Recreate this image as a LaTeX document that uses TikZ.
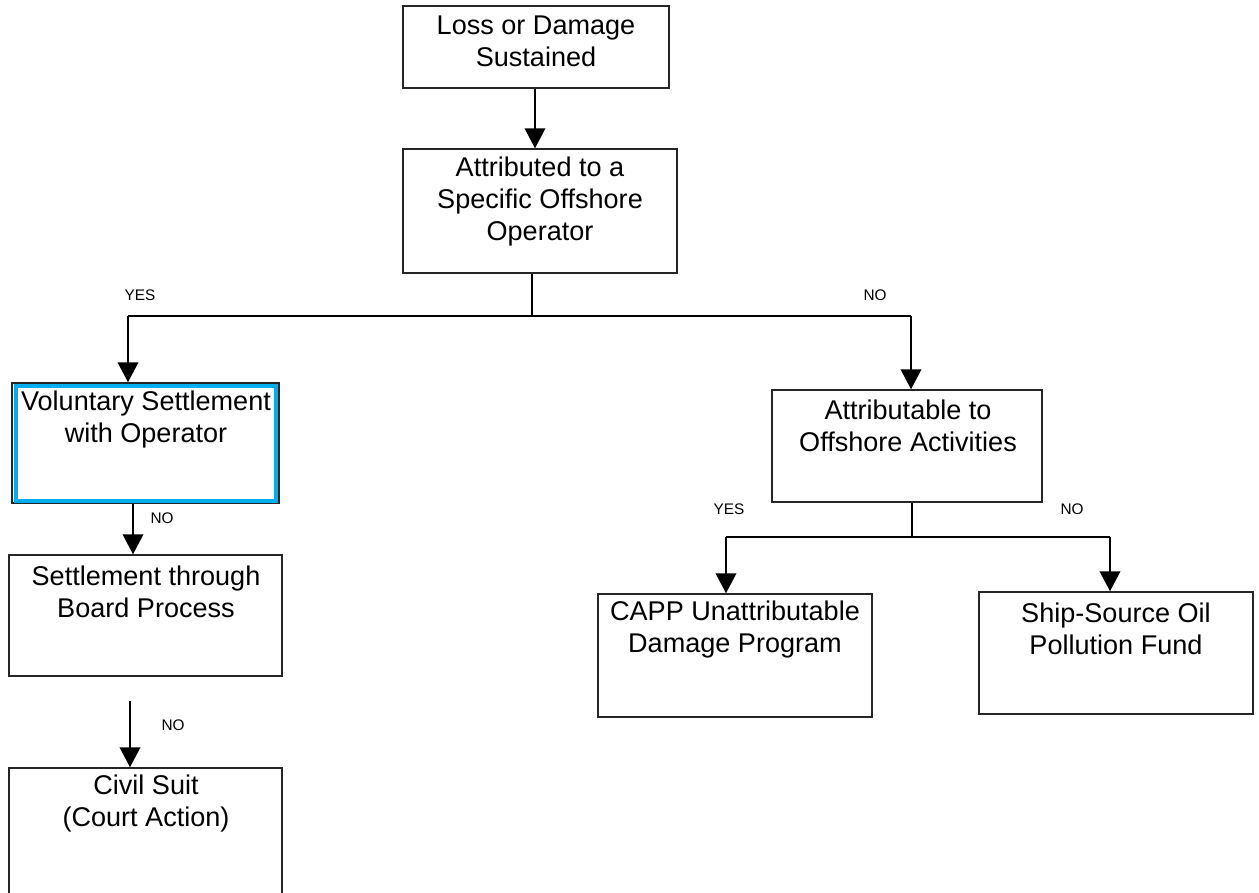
\documentclass[tikz,border=0pt]{standalone}
\usepackage{fontspec}
\setmainfont{Liberation Sans}
\usetikzlibrary{arrows.meta,fit}
\definecolor{frameblue}{RGB}{0,174,239}
\tikzset{
  box/.style={draw=black!85, line width=1.1pt, inner sep=0pt},
  txt/.style={align=center, font=\fontsize{20.3}{24.2}\selectfont, inner sep=0pt},
  tag/.style={font=\fontsize{11.5}{13}\selectfont, inner sep=0pt},
  link/.style={line width=1.1pt},
  arr/.style={link, -{Triangle[length=15pt,width=15.5pt]}}
}
\begin{document}
\begin{tikzpicture}[x=0.75pt,y=-0.75pt]
  \clip (0,0) rectangle (1259,892);
  % boxes
  \node[box, fit={(403,6) (669,88)}] (loss) {};
  \node[box, fit={(403,149) (677,273)}] (attr) {};
  \node[box, fit={(12,383) (279,503)}] (vol) {};
  \node[draw=frameblue, line width=3pt, inner sep=0pt, fit={(16,386) (275.5,501)}] (volin) {};
  \node[box, fit={(9,555) (282,676)}] (board) {};
  \node[box, fit={(9,768) (282,900)}] (civil) {};
  \node[box, fit={(772,390) (1042,502)}] (act) {};
  \node[box, fit={(598,594) (872,717)}] (capp) {};
  \node[box, fit={(979,592) (1253,714)}] (ship) {};
  % texts
  \node[txt] (losst) at (536,41) {Loss or Damage\\Sustained};
  \node[txt] (attrt) at (540,201.5) {Attributed to a\\Specific Offshore\\Operator};
  \node[txt] (volt) at (146,419.5) {Voluntary Settlement\\with Operator};
  \node[txt] (boardt) at (146,591.5) {Settlement through\\Board Process};
  \node[txt] (civilt) at (146,803.5) {Civil Suit\\(Court Action)};
  \node[txt] (actt) at (908,425.5) {Attributable to\\Offshore Activities};
  \node[txt] (cappt) at (735,629.5) {CAPP Unattributable\\Damage Program};
  \node[txt] (shipt) at (1116,628.5) {Ship-Source Oil\\Pollution Fund};
  % branch labels
  \node[tag] (yes1) at (140,295) {YES};
  \node[tag] (no1) at (875,295) {NO};
  \node[tag] (no2) at (162,518) {NO};
  \node[tag] (no3) at (173,725) {NO};
  \node[tag] (yes2) at (729,509) {YES};
  \node[tag] (no4) at (1072,509) {NO};
  % junctions
  \coordinate (j1) at (532,316);
  \coordinate (j1l) at (128,316);
  \coordinate (j1r) at (911,316);
  \coordinate (j2) at (912,537);
  \coordinate (j2l) at (726,537);
  \coordinate (j2r) at (1110,537);
  \coordinate (colA) at (133,0);
  \coordinate (colB) at (130,701);
  \coordinate (colC) at (535,0);
  \begin{scope}
    \draw[arr] (colC |- loss.south) -- (colC |- attr.north);
    \draw[link] (j1 |- attr.south) -- (j1);
    \draw[link] (j1l) -- (j1r);
    \draw[arr] (j1l) -- (j1l |- vol.north);
    \draw[arr] (j1r) -- (j1r |- act.north);
    \draw[arr] (colA |- vol.south) -- (colA |- board.north);
    \draw[arr] (colB) -- (colB |- civil.north);
    \draw[link] (j2 |- act.south) -- (j2);
    \draw[link] (j2l) -- (j2r);
    \draw[arr] (j2l) -- (j2l |- capp.north);
    \draw[arr] (j2r) -- (j2r |- ship.north);
  \end{scope}
\end{tikzpicture}
\end{document}
